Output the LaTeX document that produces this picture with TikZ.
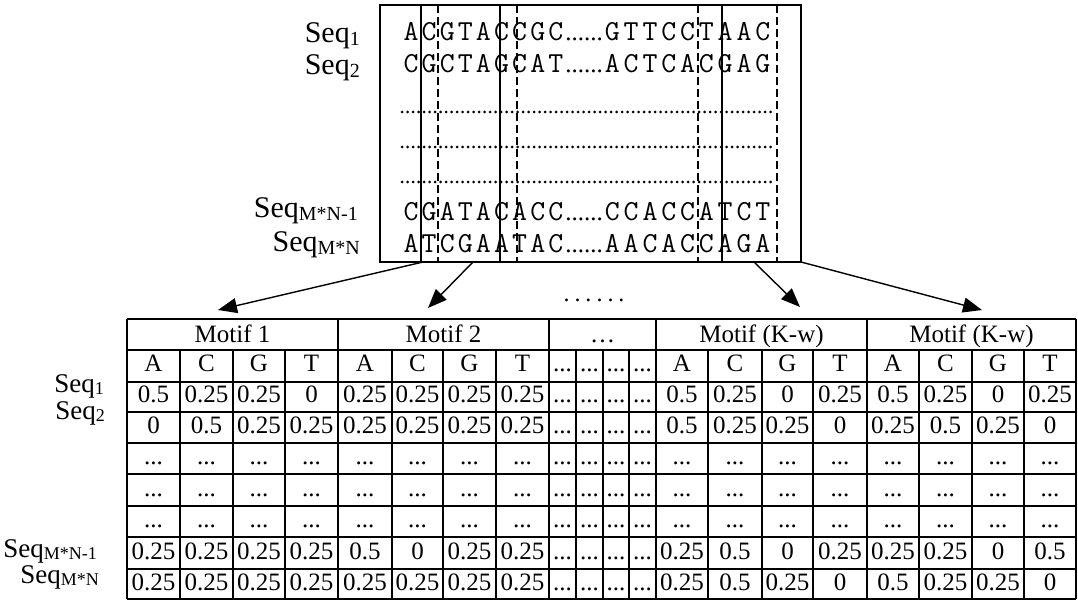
\documentclass[tikz,border=0pt]{standalone}
\usepackage{fontspec}
\setmainfont{Liberation Serif}
\usetikzlibrary{arrows.meta}
\newcommand\eld{...}
\newcommand\seqlab[1]{Seq\raisebox{-3pt}{\fontsize{20}{20}\selectfont #1}}
\newcommand\seqlabs[1]{Seq\raisebox{-2pt}{\fontsize{18}{18}\selectfont #1}}
\newcommand\seqrow[5]{% #1 x0, #2 slot width, #3 baseline, #4 name, #5 chars
  \foreach \ch [count=\i] in {#5} {\node[seqch] (#4-\i) at ({#1+#2*(\i-0.5)},#3) {\ch};}}
\newcommand\cellrow[3]{% #1 name, #2 baseline, #3 twenty entries
  \foreach \ct [count=\i from 0] in {#3} {%
    \pgfmathsetmacro\xx{{153.5,206.5,259,311.5,365,417.5,469.5,522.5,562.5,589.5,616,642.5,682,735,787.5,840,893,945.5,998,1050}[\i]}%
    \node[cell] (#1-\i) at (\xx,#2) {\ct};}}
\begin{document}
\begin{tikzpicture}[x=1pt,y=-1pt,
  lab/.style={font=\fontsize{30}{30}\selectfont, anchor=base east, inner sep=0pt},
  labs/.style={font=\fontsize{27}{27}\selectfont, anchor=base east, inner sep=0pt},
  cell/.style={font=\fontsize{25}{25}\selectfont, anchor=base, inner sep=0pt},
  seqch/.style={font=\fontsize{29}{29}\selectfont\ttfamily, anchor=base, inner sep=0pt},
  boxline/.style={line width=1.4pt},
  dashline/.style={line width=1.3pt, dash pattern=on 8pt off 4pt},
  dotline/.style={line width=3pt, line cap=round, dash pattern=on 0pt off 5.5pt},
  gridline/.style={line width=1.6pt},
  arr/.style={line width=1.4pt, -{Triangle[length=19pt,width=15pt]}}
]
\useasboundingbox (0,0) rectangle (1078,601);

% ---- top alignment box ----
\draw[boxline] (380,5) rectangle (801,262);
\draw[boxline] (421,5) rectangle (500,262);
\draw[boxline] (722,5) rectangle (801,262);
\foreach \xd in {438,517,698,777} \draw[dashline] (\xd,5) -- (\xd,262);
\foreach \yd in {112,147,182} \draw[dotline] (402,\yd) -- (772,\yd);

\node[lab] (t1) at (360,43) {\seqlab{1}};
\node[lab] (t2) at (360,75) {\seqlab{2}};
\node[lab] (t3) at (358,218) {\seqlab{M*N-1}};
\node[lab] (t4) at (360,252) {\seqlab{M*N}};

\seqrow{402}{18.1}{41}{r1a}{A,C,G,T,A,C,C,G,C}
\seqrow{603}{18.8}{41}{r1b}{G,T,T,C,C,T,A,A,C}
\seqrow{402}{18.1}{73}{r2a}{C,G,C,T,A,G,C,A,T}
\seqrow{603}{18.8}{73}{r2b}{A,C,T,C,A,C,G,A,G}
\seqrow{402}{18.1}{221}{r3a}{C,G,A,T,A,C,A,C,C}
\seqrow{603}{18.8}{221}{r3b}{C,C,A,C,C,A,T,C,T}
\seqrow{402}{18.1}{253}{r4a}{A,T,C,G,A,A,T,A,C}
\seqrow{603}{18.8}{253}{r4b}{A,A,C,A,C,C,A,G,A}
\foreach \yb/\nm in {41/d1,73/d2,221/d3,253/d4}
  \node[font=\fontsize{25}{25}\selectfont, anchor=base, inner sep=0pt] (\nm) at (584,\yb) {\eld\eld};

% ---- arrows ----
\coordinate (a1s) at (423,262); \coordinate (a1e) at (218,310);
\coordinate (a2s) at (473,262); \coordinate (a2e) at (428,308);
\coordinate (a3s) at (754,262); \coordinate (a3e) at (800,307);
\coordinate (a4s) at (801,262); \coordinate (a4e) at (982,310);
\draw[arr] (a1s) -- (a1e);
\draw[arr] (a2s) -- (a2e);
\draw[arr] (a3s) -- (a3e);
\draw[arr] (a4s) -- (a4e);
\node[font=\fontsize{24}{24}\selectfont, anchor=base, inner sep=0pt] (mid) at (594,302)
  {.\hspace{5pt}.\hspace{5pt}.\hspace{5pt}.\hspace{5pt}.\hspace{5pt}.};

% ---- table grid ----
\foreach \yr in {319,350,382,412,443,474,506,537,569,599}
  \draw[gridline] (127,\yr) -- (1076,\yr);
\foreach \xc in {127,338,549,656,867,1076}
  \draw[gridline] (\xc,319) -- (\xc,599);
\foreach \xc in {180,233,285,392,443,496,576,603,629,708,762,813,919,972,1024}
  \draw[gridline] (\xc,350) -- (\xc,599);

% header
\node[cell] (h1) at (232.5,342) {Motif 1};
\node[cell] (h2) at (443.5,342) {Motif 2};
\node[cell] (h3) at (602.5,342) {…};
\node[cell] (h4) at (761.5,342) {Motif (K-w)};
\node[cell] (h5) at (971.5,342) {Motif (K-w)};

\cellrow{ra}{371}{A,C,G,T,A,C,G,T,\eld,\eld,\eld,\eld,A,C,G,T,A,C,G,T}
\cellrow{rb}{402}{0.5,0.25,0.25,0,0.25,0.25,0.25,0.25,\eld,\eld,\eld,\eld,0.5,0.25,0,0.25,0.5,0.25,0,0.25}
\cellrow{rc}{433}{0,0.5,0.25,0.25,0.25,0.25,0.25,0.25,\eld,\eld,\eld,\eld,0.5,0.25,0.25,0,0.25,0.5,0.25,0}
\cellrow{rd}{464}{\eld,\eld,\eld,\eld,\eld,\eld,\eld,\eld,\eld,\eld,\eld,\eld,\eld,\eld,\eld,\eld,\eld,\eld,\eld,\eld}
\cellrow{re}{496}{\eld,\eld,\eld,\eld,\eld,\eld,\eld,\eld,\eld,\eld,\eld,\eld,\eld,\eld,\eld,\eld,\eld,\eld,\eld,\eld}
\cellrow{rf}{527}{\eld,\eld,\eld,\eld,\eld,\eld,\eld,\eld,\eld,\eld,\eld,\eld,\eld,\eld,\eld,\eld,\eld,\eld,\eld,\eld}
\cellrow{rg}{559}{0.25,0.25,0.25,0.25,0.5,0,0.25,0.25,\eld,\eld,\eld,\eld,0.25,0.5,0,0.25,0.25,0.25,0,0.5}
\cellrow{rh}{590}{0.25,0.25,0.25,0.25,0.25,0.25,0.25,0.25,\eld,\eld,\eld,\eld,0.25,0.5,0.25,0,0.5,0.25,0.25,0}

% left labels of table
\node[labs] (s1) at (104,392) {\seqlabs{1}};
\node[labs] (s2) at (105,419) {\seqlabs{2}};
\node[labs] (s3) at (97,557) {\seqlabs{M*N-1}};
\node[labs] (s4) at (99,583) {\seqlabs{M*N}};
\end{tikzpicture}
\end{document}
